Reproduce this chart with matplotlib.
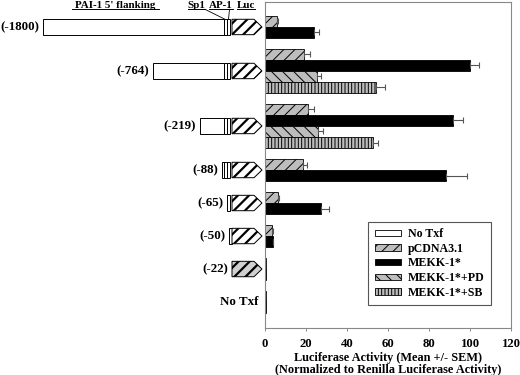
import numpy as np
import matplotlib
matplotlib.use("Agg")
import matplotlib.pyplot as plt
from matplotlib.patches import Rectangle, Polygon, Patch

# ---------------- data ----------------
constructs = ["(-1800)", "(-764)", "(-219)", "(-88)", "(-65)", "(-50)", "(-22)", "No Txf"]
series = ["No Txf", "pCDNA3.1", "MEKK-1*", "MEKK-1*+PD", "MEKK-1*+SB"]
nan = np.nan
no_txf = [nan, nan, nan, nan, nan, nan, nan, nan]
no_txf_err = [nan, nan, nan, nan, nan, nan, nan, nan]
pcdna = [5.7, 19.2, 20.8, 18.4, 6.5, 3.5, 0.4, 0.3]
pcdna_err = [0.8, 2.8, 3.1, 1.9, 0.3, 0.2, 0.0, 0.0]
mekk = [24.0, 100.0, 91.5, 88.1, 27.3, 3.7, 0.4, 0.3]
mekk_err = [2.5, 4.4, 5.2, 10.3, 3.9, 0.3, 0.0, 0.0]
mekk_pd = [nan, 25.2, 26.0, nan, nan, nan, nan, nan]
mekk_pd_err = [nan, 2.3, 2.3, nan, nan, nan, nan, nan]
mekk_sb = [nan, 54.0, 52.8, nan, nan, nan, nan, nan]
mekk_sb_err = [nan, 4.7, 2.5, nan, nan, nan, nan, nan]
xticks = [0, 20, 40, 60, 80, 100, 120]
xlabel = "Luciferase Activity (Mean +/- SEM)\n(Normalized to Renilla Luciferase Activity)"

# schematic description of each construct (promoter left end, Sp1, AP-1 present)
promoter_left = [43, 153, 200, 222, 227, 229, nan, nan]
has_sp1 = [True, True, True, True, False, False, False, False]
has_ap1 = [True, True, True, True, True, False, False, False]
has_luc = [True, True, True, True, True, True, True, False]

# ---------------- style ----------------
plt.rcParams['font.family'] = ['Liberation Serif', 'DejaVu Serif']
plt.rcParams['font.weight'] = 'bold'
plt.rcParams['hatch.linewidth'] = 0.7
FS = 8.8

styles = {
    "No Txf":      dict(facecolor="white", hatch=None),
    "pCDNA3.1":    dict(facecolor="#bdbdbd", hatch="///"),
    "MEKK-1*":     dict(facecolor="black", hatch=None),
    "MEKK-1*+PD":  dict(facecolor="#bdbdbd", hatch="\\\\\\"),
    "MEKK-1*+SB":  dict(facecolor="#bdbdbd", hatch="|||||"),
}
values = [no_txf, pcdna, mekk, mekk_pd, mekk_sb]
errors = [no_txf_err, pcdna_err, mekk_err, mekk_pd_err, mekk_sb_err]

W, H = 520, 375
fig = plt.figure(figsize=(W / 100, H / 100), dpi=100)
ax_left, ax_right, ax_top, ax_bot = 265, 511, 2, 328
rect = [ax_left / W, (H - ax_bot) / H, (ax_right - ax_left) / W, (ax_bot - ax_top) / H]
ax = fig.add_axes(rect)
axs = fig.add_axes([0, rect[1], ax_left / W, rect[3]])

# ---------------- layout of groups (slot units, one slot = one bar) ----------------
gap = 1.0
group_start = []
group_center = []
start = 0.0
present = []
for g in range(len(constructs)):
    idx = [s for s in range(len(series)) if not np.isnan(values[s][g])]
    present.append(idx)
    group_start.append(start)
    group_center.append(start + len(idx) / 2)
    start += len(idx) + gap
total = start - gap
ylim = (total + 1.36, -1.27)

for g in range(len(constructs)):
    for k, s in enumerate(present[g]):
        y = group_start[g] + k + 0.5
        v = values[s][g]
        st = styles[series[s]]
        ax.barh(y, v, height=1.0, left=0, color=st["facecolor"], hatch=st["hatch"],
                edgecolor="black", linewidth=0.6, zorder=2)
        e = errors[s][g]
        if e > 0:
            ax.errorbar(v, y, xerr=[[0], [e]], fmt="none", ecolor="#555555",
                        elinewidth=0.8, capsize=2.5, capthick=0.8, zorder=3)

ax.set_xlim(0, 120)
ax.set_ylim(*ylim)
ax.set_xticks(xticks)
ax.set_xticklabels([str(t) for t in xticks], fontsize=FS + 0.4, fontweight="bold")
ax.set_yticks([])
ax.tick_params(axis="x", length=2, width=0.6, color="#777777", pad=5)
for sp in ax.spines.values():
    sp.set_color("#888888")
    sp.set_linewidth(0.8)
ax.set_xlabel(xlabel, fontsize=FS, fontweight="bold", linespacing=0.95, labelpad=2)

handles = [Patch(facecolor=styles[s]["facecolor"], hatch=styles[s]["hatch"],
                 edgecolor="black", linewidth=0.6) for s in series]
leg = ax.legend(handles, series, loc="lower left", bbox_to_anchor=(0.419, 0.070),
                frameon=True, fancybox=False, edgecolor="#555555", framealpha=1,
                prop=dict(family=['Liberation Serif'], weight='bold', size=8.6),
                handlelength=2.2, handleheight=0.45, labelspacing=0.22,
                borderpad=0.55, handletextpad=0.6, borderaxespad=0)
leg.get_frame().set_linewidth(0.8)

# ---------------- schematic of constructs ----------------
axs.set_xlim(0, ax_left)
axs.set_ylim(*ylim)
axs.axis("off")
hh = 1.40  # element height in slot units
luc_x0, luc_tip0, luc_x1 = 232, 254, 262
sp1_x = (224, 227)
ap1_x = (227, 230)
for g, name in enumerate(constructs):
    yc = group_center[g]
    y0 = yc - hh / 2
    left_edge = luc_x0
    if not np.isnan(promoter_left[g]):
        pl = promoter_left[g]
        right = 224 if has_sp1[g] else (227 if has_ap1[g] else 232)
        if right > pl:
            axs.add_patch(Rectangle((pl, y0), right - pl, hh, facecolor="white",
                                    edgecolor="black", linewidth=0.7))
        if has_sp1[g]:
            axs.add_patch(Rectangle((sp1_x[0], y0), sp1_x[1] - sp1_x[0], hh,
                                    facecolor="white", edgecolor="black", linewidth=0.7))
        if has_ap1[g]:
            axs.add_patch(Rectangle((ap1_x[0], y0), ap1_x[1] - ap1_x[0], hh,
                                    facecolor="white", edgecolor="black", linewidth=0.7))
        left_edge = min(pl, left_edge)
    if has_luc[g]:
        fc = "#d0d0d0" if np.isnan(promoter_left[g]) else "white"
        pts = [(luc_x0, y0), (luc_tip0, y0), (luc_x1, yc), (luc_tip0, y0 + hh), (luc_x0, y0 + hh)]
        with plt.rc_context({'hatch.linewidth': 1.6}):
            pg = Polygon(pts, closed=True, facecolor=fc, edgecolor="black",
                         hatch="///", linewidth=0.7)
            if hasattr(pg, "set_hatch_linewidth"):
                pg.set_hatch_linewidth(1.6)
        axs.add_patch(pg)
    label_right = left_edge - 4 if has_luc[g] else 258
    axs.text(label_right, yc, name, ha="right", va="center", fontsize=FS + 0.6,
             fontweight="bold")

# header labels
def py(p):
    return ylim[1] + (p - ax_top) / 11.0

hy = py(7.6)
uy = py(9.3)
for txt, x0, x1 in [("PAI-1 5' flanking", 72, 159), ("Sp1", 188, 205),
                    ("AP-1", 209, 233), ("Luc", 237, 255)]:
    axs.text((x0 + x1) / 2, hy, txt, ha="center", va="baseline", fontsize=7.9,
             fontweight="bold", clip_on=False)
    axs.plot([x0, x1], [uy, uy], color="black", lw=0.7, clip_on=False)
top0 = group_center[0] - hh / 2
axs.plot([205, 225], [uy, top0], color="black", lw=0.6, clip_on=False)
axs.plot([229.5, 228.5], [uy, top0], color="black", lw=0.6, clip_on=False)

fig.savefig("out.png", dpi=100)
